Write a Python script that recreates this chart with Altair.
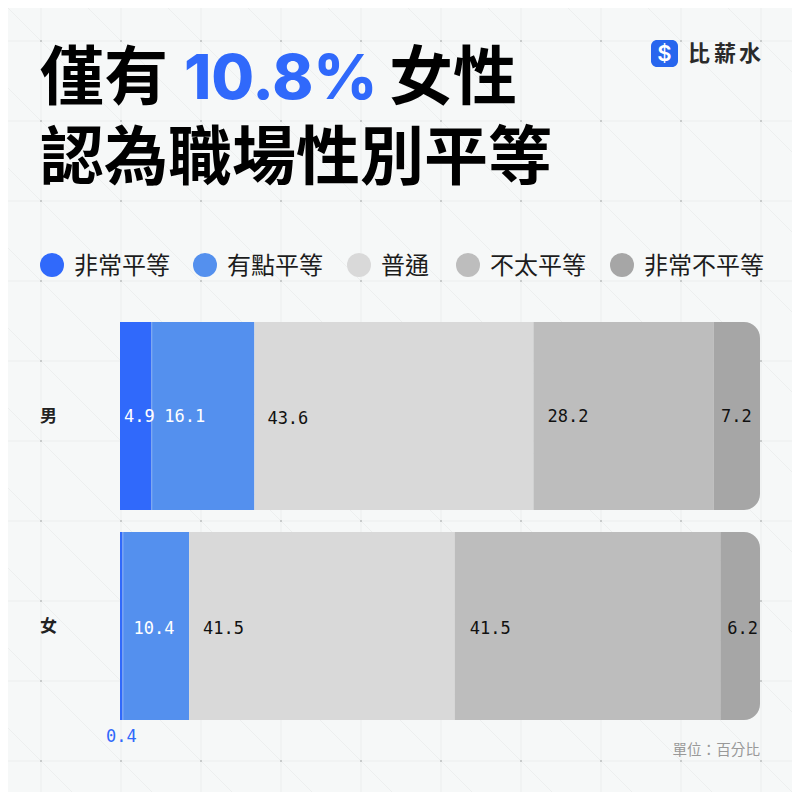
import altair as alt
import pandas as pd

# ---- data ----
categories = ["非常平等", "有點平等", "普通", "不太平等", "非常不平等"]
genders = ["男", "女"]
male_values = [4.9, 16.1, 43.6, 28.2, 7.2]
female_values = [0.4, 10.4, 41.5, 41.5, 6.2]
colors = ["#3069fb", "#5490ee", "#d9d9d9", "#bdbdbd", "#a6a6a6"]

BG = "#f6f8f8"
CJK = "Noto Sans CJK TC"
MONO = "DejaVu Sans Mono"
OX, OY = 8, 8  # page margin


def px(v):
    return v - OX


rows = []
for g, vals in zip(genders, [male_values, female_values]):
    s = 0.0
    for c, v in zip(categories, vals):
        rows.append({"gender": g, "cat": c, "value": v, "start": s, "end": s + v,
                     "label": f"{v:.1f}"})
        s += v
df = pd.DataFrame(rows)

# ---- background pattern ----
grid_pos = [41 + 80 * i for i in range(10)]
grid_df = pd.DataFrame({"p": [px(p) for p in grid_pos]})
dots_df = pd.DataFrame([{"x": px(a), "y": px(b)} for a in grid_pos for b in grid_pos])
diag_df = pd.DataFrame([
    {"x": 80 * k - 100, "x2": 80 * k + 900, "y": -100, "y2": 900} for k in range(-12, 13)
])
no_scale = dict(scale=None, axis=None)
bg = alt.layer(
    alt.Chart(diag_df).mark_rule(color="#edefef", strokeWidth=1).encode(
        x=alt.X("x:Q", **no_scale), x2="x2:Q",
        y=alt.Y("y:Q", **no_scale), y2="y2:Q"),
    alt.Chart(grid_df).mark_rule(color="#f1f3f3", strokeWidth=2).encode(
        x=alt.X("p:Q", **no_scale)),
    alt.Chart(grid_df).mark_rule(color="#f1f3f3", strokeWidth=2).encode(
        y=alt.Y("p:Q", **no_scale)),
    alt.Chart(dots_df).mark_square(size=4, color="#c8cbcb", opacity=1).encode(
        x=alt.X("x:Q", **no_scale), y=alt.Y("y:Q", **no_scale)),
)

# ---- scales ----
x_scale = alt.Scale(domain=[0, 100], range=[px(120), px(760)], nice=False, zero=False)
y_scale = alt.Scale(domain=genders, range=[px(322), px(720)], paddingInner=22 / 210, paddingOuter=0)
x_enc = alt.X("start:Q", scale=x_scale, axis=None)
y_enc = alt.Y("gender:N", scale=y_scale, axis=None)
color_enc = alt.Color(
    "cat:N", scale=alt.Scale(domain=categories, range=colors), legend=None)

bars = []
for i, c in enumerate(categories):
    radius = dict(cornerRadiusTopRight=16, cornerRadiusBottomRight=16) if i == 4 else {}
    bars.append(
        alt.Chart(df[df["cat"] == c]).mark_bar(opacity=1, **radius).encode(
            x=x_enc, x2="end:Q", y=y_enc, color=color_enc)
    )
sep = alt.Chart(df[df["cat"] == categories[1]]).transform_calculate(e="datum.start + 0.15").mark_bar(
    color="#80a9f3", opacity=1).encode(x=x_enc, x2="e:Q", y=y_enc)

# ---- value labels: (dx from segment start, dy from band centre, colour) ----
label_layout = {
    ("男", 0): (4, 1, "#ffffff"), ("男", 1): (13, 1, "#ffffff"), ("男", 2): (13, 3, "#111111"),
    ("男", 3): (14, 1, "#111111"), ("男", 4): (7, 1, "#111111"),
    ("女", 0): (-14, 111, "#3069fb"), ("女", 1): (11, 3, "#ffffff"), ("女", 2): (14, 3, "#111111"),
    ("女", 3): (15, 3, "#111111"), ("女", 4): (7, 3, "#111111"),
}
labels = []
for (g, idx), (dx, dy, col) in label_layout.items():
    sub = df[(df["gender"] == g) & (df["cat"] == categories[idx])]
    labels.append(
        alt.Chart(sub).mark_text(font=MONO, fontSize=17, align="left", baseline="middle",
                                 dx=dx, dy=dy, color=col).encode(
            x=x_enc, y=y_enc, text="label:N")
    )
gender_labels = alt.Chart(pd.DataFrame({"gender": genders})).mark_text(
    font=CJK, fontSize=17, fontWeight=700, align="left", baseline="middle", color="#222222",
    dy=1).encode(x=alt.value(px(40)), y=y_enc, text="gender:N")


def text(t, x, y, size, color="#000000", weight=400, font=CJK, align="left"):
    return alt.Chart(pd.DataFrame({"t": [t]})).mark_text(
        font=font, fontSize=size, fontWeight=weight, color=color, align=align, baseline="middle"
    ).encode(x=alt.value(px(x)), y=alt.value(px(y)), text="t:N")


title_parts = [
    text("僅有", 40, 80, 64, weight=700),
    text("10.8%", 184, 80, 62, color="#3069fb", weight=800, font="Inter"),
    text("女性", 389, 80, 64, weight=700),
    text("認為職場性別平等", 40, 160, 64, weight=700),
]

# ---- legend row ----
legend_x = [52, 205, 359, 468, 622]
legend_df = pd.DataFrame({"cat": categories, "x": [px(v) for v in legend_x]})
legend_parts = []
for c, lx in zip(categories, legend_x):
    one = legend_df[legend_df["cat"] == c]
    legend_parts.append(
        alt.Chart(one).mark_circle(size=576, opacity=1).encode(
            x=alt.value(px(lx)), y=alt.value(px(265)), color=color_enc))
    legend_parts.append(text(c, lx + 22, 267, 24, color="#1c1c1c"))

logo_box = alt.Chart(pd.DataFrame({"a": [0]})).mark_rect(color="#2866ee", cornerRadius=6).encode(
    x=alt.value(px(651)), x2=alt.value(px(678)), y=alt.value(px(40)), y2=alt.value(px(67)))
logo = [
    logo_box,
    text("$", 664.5, 54, 22, color="#ffffff", weight=600, font="Inter", align="center"),
    text("比", 699, 54, 22, color="#2a2a2a", weight=700, align="center"),
    text("薪", 725, 54, 22, color="#2a2a2a", weight=700, align="center"),
    text("水", 750, 54, 22, color="#2a2a2a", weight=700, align="center"),
]
unit = text("單位：百分比", 760, 751, 14.6, color="#999999", align="right")

main = alt.layer(*bars, sep, *labels, gender_labels, *title_parts, *legend_parts, *logo, unit)

chart = alt.layer(bg, main).resolve_scale(x="independent", y="independent").properties(
    width=784, height=784, background=BG,
    padding=0, autosize=alt.AutoSizeParams(type="none"),
).configure_view(stroke=None)

chart.save("out.html", embed_options={"renderer": "svg", "actions": False})
